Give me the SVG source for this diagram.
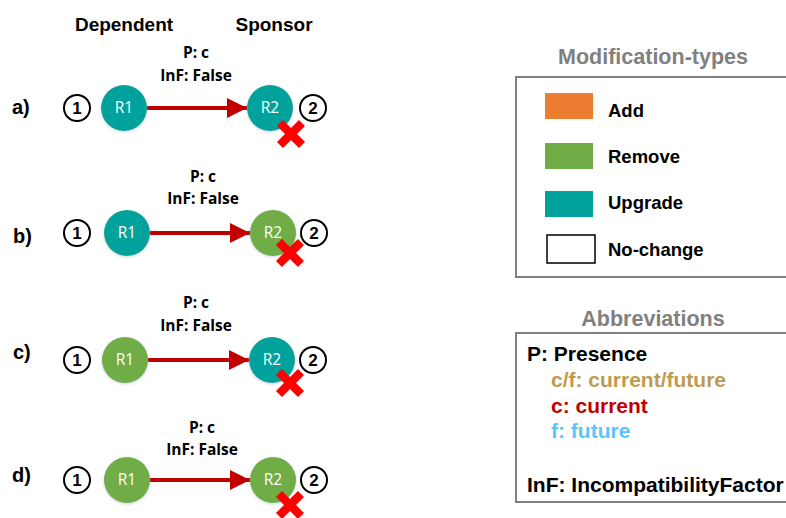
<svg xmlns="http://www.w3.org/2000/svg" width="786" height="518" viewBox="0 0 786 518">
<style>
text{font-family:"Liberation Sans",Arial,sans-serif;font-weight:bold;fill:#000}
.hdr{font-size:19px;text-anchor:middle}
.lbl{font-size:15.5px;text-anchor:middle;font-family:"Open Sans","Liberation Sans",sans-serif}
.row{font-size:20px}
.num{font-size:17px;text-anchor:middle}
.rn{font-size:15.5px;font-weight:normal;fill:#fff;text-anchor:middle;font-family:"Open Sans","Liberation Sans",sans-serif}
.ring{fill:#fff;stroke:#000;stroke-width:2}
.teal{fill:#00A29B}
.green{fill:#70AD47}
.edge{stroke:#C00000;stroke-width:4;fill:none}
.x{stroke:#FF0000;stroke-width:8.5;fill:none}
.title{font-size:21.5px;fill:#808080;text-anchor:middle}
.leg{font-size:18.5px}
.box{fill:#fff;stroke:#808080;stroke-width:2}
.ab{font-size:21px}
</style>
<defs>
<marker id="ah" markerUnits="userSpaceOnUse" markerWidth="22" markerHeight="22" refX="20" refY="10" orient="auto">
<path d="M0,0 L20,10 L0,20 Z" fill="#C00000"/>
</marker>
<filter id="sh" x="-30%" y="-30%" width="160%" height="160%">
<feGaussianBlur in="SourceAlpha" stdDeviation="1.5"/>
<feOffset dx="0" dy="1" result="b"/>
<feFlood flood-color="#9ab" flood-opacity="0.5"/>
<feComposite in2="b" operator="in"/>
<feMerge><feMergeNode/><feMergeNode in="SourceGraphic"/></feMerge>
</filter>
</defs>
<rect width="786" height="518" fill="#fff"/>
<text class="hdr" x="124" y="31">Dependent</text>
<text class="hdr" x="274" y="31">Sponsor</text>

<g id="connectors">
<line class="edge" x1="147" y1="108" x2="247" y2="108" marker-end="url(#ah)"/>
<line class="edge" x1="150" y1="233" x2="250" y2="233" marker-end="url(#ah)"/>
<line class="edge" x1="148" y1="360" x2="249" y2="360" marker-end="url(#ah)"/>
<line class="edge" x1="150" y1="480" x2="250" y2="480" marker-end="url(#ah)"/>
<text class="lbl" x="196" y="58">P: c</text>
<text class="lbl" x="196" y="81">InF: False</text>
<text class="lbl" x="203" y="182">P: c</text>
<text class="lbl" x="203" y="204">InF: False</text>
<text class="lbl" x="196" y="308">P: c</text>
<text class="lbl" x="196" y="331">InF: False</text>
<text class="lbl" x="202" y="433">P: c</text>
<text class="lbl" x="202" y="455">InF: False</text>
</g>

<g id="row-a">
<text class="row" x="12" y="114">a)</text>
<circle class="ring" cx="77" cy="108" r="13"/><text class="num" x="77" y="114">1</text>
<g id="a-R1"><circle class="teal" cx="124" cy="108" r="23" filter="url(#sh)"/><text class="rn" x="124" y="113">R1</text></g>
<g id="a-R2"><circle class="teal" cx="270" cy="108" r="23" filter="url(#sh)"/><text class="rn" x="270" y="113">R2</text></g>
<circle class="ring" cx="313" cy="108" r="13"/><text class="num" x="313" y="114">2</text>
<path class="x" d="M280,123 L302,145 M280,145 L302,123"/>
</g>

<g id="row-b">
<text class="row" x="13" y="243">b)</text>
<circle class="ring" cx="77" cy="233" r="13"/><text class="num" x="77" y="239">1</text>
<g id="b-R1"><circle class="teal" cx="127" cy="233" r="23" filter="url(#sh)"/><text class="rn" x="127" y="238">R1</text></g>
<g id="b-R2"><circle class="green" cx="273" cy="233" r="23" filter="url(#sh)"/><text class="rn" x="273" y="238">R2</text></g>
<circle class="ring" cx="314" cy="233" r="13"/><text class="num" x="314" y="239">2</text>
<path class="x" d="M279,242 L301,264 M279,264 L301,242"/>
</g>

<g id="row-c">
<text class="row" x="13" y="359">c)</text>
<circle class="ring" cx="77" cy="360" r="13"/><text class="num" x="77" y="366">1</text>
<g id="c-R1"><circle class="green" cx="125" cy="360" r="23" filter="url(#sh)"/><text class="rn" x="125" y="365">R1</text></g>
<g id="c-R2"><circle class="teal" cx="272" cy="360" r="23" filter="url(#sh)"/><text class="rn" x="272" y="365">R2</text></g>
<circle class="ring" cx="313" cy="360" r="13"/><text class="num" x="313" y="366">2</text>
<path class="x" d="M279,372 L301,394 M279,394 L301,372"/>
</g>

<g id="row-d">
<text class="row" x="12" y="482">d)</text>
<circle class="ring" cx="77" cy="480" r="13"/><text class="num" x="77" y="486">1</text>
<g id="d-R1"><circle class="green" cx="127" cy="480" r="23" filter="url(#sh)"/><text class="rn" x="127" y="485">R1</text></g>
<g id="d-R2"><circle class="green" cx="273" cy="480" r="23" filter="url(#sh)"/><text class="rn" x="273" y="485">R2</text></g>
<circle class="ring" cx="314" cy="480" r="13"/><text class="num" x="314" y="486">2</text>
<path class="x" d="M279,494 L301,516 M279,516 L301,494"/>
</g>

<g id="legend-modification">
<text class="title" x="653" y="64">Modification-types</text>
<rect class="box" x="516" y="77" width="280" height="200"/>
<rect x="545" y="93" width="48" height="26" fill="#ED7D31"/>
<text class="leg" x="608" y="117">Add</text>
<rect x="545" y="143" width="48" height="26" fill="#70AD47"/>
<text class="leg" x="608" y="163">Remove</text>
<rect x="545" y="191" width="48" height="26" fill="#00A29B"/>
<text class="leg" x="608" y="209">Upgrade</text>
<rect x="547" y="235" width="48" height="28" fill="#fff" stroke="#000" stroke-width="1.5"/>
<text class="leg" x="608" y="256">No-change</text>
</g>

<g id="legend-abbreviations">
<text class="title" x="653" y="326">Abbreviations</text>
<rect class="box" x="516" y="333" width="280" height="169"/>
<text class="ab" x="527" y="361">P: Presence</text>
<text class="ab" x="551" y="387" style="fill:#BF9B52">c/f: current/future</text>
<text class="ab" x="551" y="413" style="fill:#C00000">c: current</text>
<text class="ab" x="551" y="438" style="fill:#5BC4FF">f: future</text>
<text class="ab" x="527" y="492">InF: IncompatibilityFactor</text>
</g>
</svg>
